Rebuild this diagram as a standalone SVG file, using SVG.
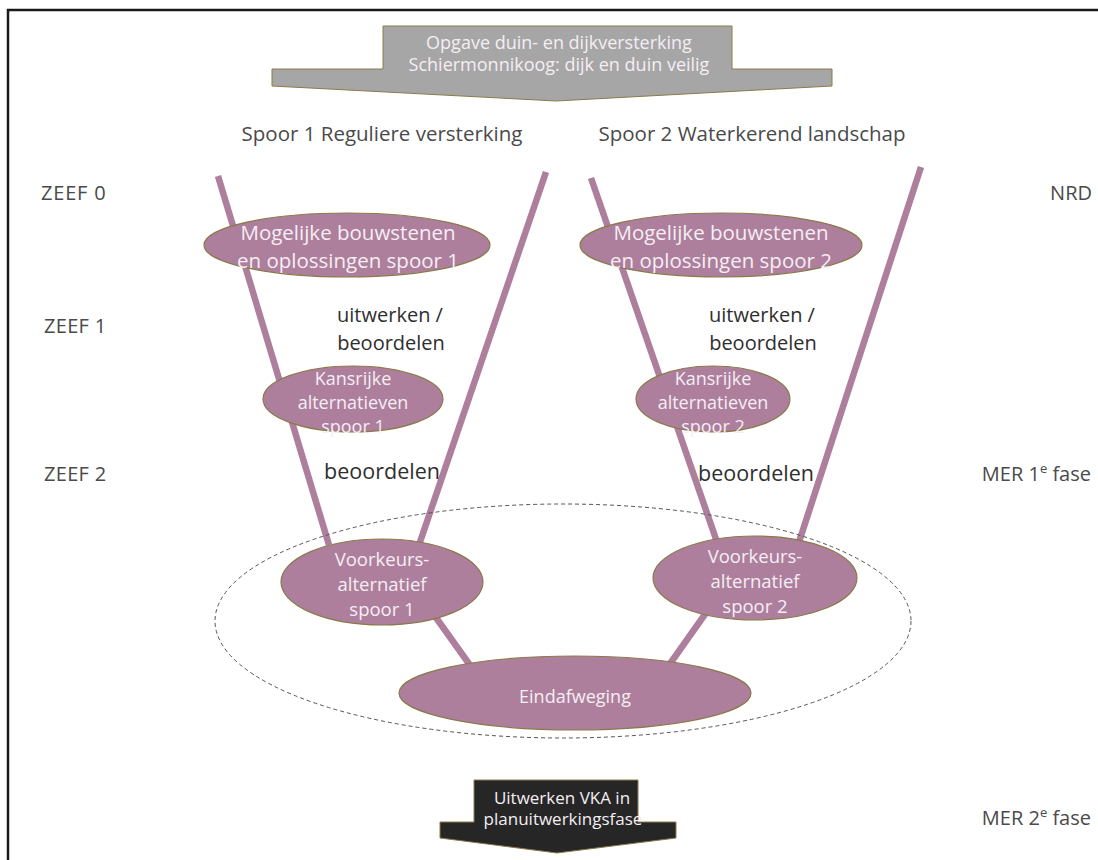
<svg xmlns="http://www.w3.org/2000/svg" width="1098" height="860" viewBox="0 0 1098 860">
<style>
.frame{fill:none;stroke:#1a1a1a;stroke-width:2.5}
.node{fill:#ad7f9d;stroke:#8a7a4a;stroke-width:1.2}
.wl{fill:#f5eef3;font-family:"Open Sans",Lato,sans-serif;text-anchor:middle}
.lbl{fill:#4a4a4a;font-family:"Open Sans",Lato,sans-serif}
.dk{fill:#2e2e2e;font-family:"Open Sans",Lato,sans-serif;text-anchor:middle}
.funnel{stroke:#ad7f9d;stroke-width:6.5;fill:none}
.dash{fill:none;stroke:#555;stroke-width:1;stroke-dasharray:4 3}
</style>
<rect x="0" y="0" width="1098" height="860" fill="#fff"/>
<path class="frame" d="M8 860 V10 H1098"/>

<g id="top-arrow">
<path d="M383 26 H732 V69 H832 V86 L556 101 L272 86 V69 H383 Z" fill="#a6a6a6" stroke="#8a7a4a" stroke-width="1"/>
<text class="wl" x="559" y="49" font-size="18">Opgave duin- en dijkversterking</text>
<text class="wl" x="559" y="71" font-size="18">Schiermonnikoog: dijk en duin veilig</text>
</g>

<g id="spoor-labels">
<text class="lbl" x="382" y="141" font-size="20.5" text-anchor="middle">Spoor 1 Reguliere versterking</text>
<text class="lbl" x="752" y="141" font-size="20.5" text-anchor="middle">Spoor 2 Waterkerend landschap</text>
</g>

<g id="side-labels" font-size="20">
<text class="lbl" x="41" y="200" letter-spacing="0.8">ZEEF 0</text>
<text class="lbl" x="44" y="333" letter-spacing="0.3">ZEEF 1</text>
<text class="lbl" x="44" y="481" letter-spacing="0.3">ZEEF 2</text>
<text class="lbl" x="1092" y="200" text-anchor="end">NRD</text>
<text class="lbl" x="1091" y="481" text-anchor="end">MER 1<tspan font-size="13" dy="-8">e</tspan><tspan dy="8"> fase</tspan></text>
<text class="lbl" x="1091" y="825" text-anchor="end">MER 2<tspan font-size="13" dy="-8">e</tspan><tspan dy="8"> fase</tspan></text>
</g>

<g id="connectors">
<line class="funnel" x1="218" y1="176" x2="329" y2="545"/>
<line class="funnel" x1="546" y1="172" x2="419" y2="545"/>
<line class="funnel" x1="591" y1="178" x2="717" y2="542"/>
<line class="funnel" x1="921" y1="167" x2="799" y2="542"/>
<line class="funnel" x1="432" y1="612" x2="472" y2="668"/>
<line class="funnel" x1="708" y1="610" x2="667" y2="668"/>
<ellipse class="dash" cx="563" cy="621" rx="348" ry="117"/>
</g>

<g id="mogelijke-1">
<ellipse class="node" cx="347" cy="245" rx="143" ry="32"/>
<text class="wl" x="348" y="240" font-size="20.5">Mogelijke bouwstenen</text>
<text class="wl" x="348" y="268" font-size="20.5">en oplossingen spoor 1</text>
</g>
<g id="mogelijke-2">
<ellipse class="node" cx="721" cy="245" rx="141" ry="32"/>
<text class="wl" x="721" y="240" font-size="20.5">Mogelijke bouwstenen</text>
<text class="wl" x="721" y="268" font-size="20.5">en oplossingen spoor 2</text>
</g>

<g id="uitwerken-labels" font-size="20">
<text class="dk" x="390" y="322">uitwerken /</text>
<text class="dk" x="391" y="350">beoordelen</text>
<text class="dk" x="762" y="322">uitwerken /</text>
<text class="dk" x="763" y="350">beoordelen</text>
</g>

<g id="kansrijke-1">
<ellipse class="node" cx="353" cy="399" rx="90" ry="33"/>
<text class="wl" x="353" y="385" font-size="18">Kansrijke</text>
<text class="wl" x="353" y="409" font-size="18">alternatieven</text>
<text class="wl" x="353" y="433" font-size="18">spoor 1</text>
</g>
<g id="kansrijke-2">
<ellipse class="node" cx="713" cy="399" rx="77" ry="33"/>
<text class="wl" x="713" y="385" font-size="18">Kansrijke</text>
<text class="wl" x="713" y="409" font-size="18">alternatieven</text>
<text class="wl" x="713" y="433" font-size="18">spoor 2</text>
</g>

<g id="beoordelen-labels" font-size="21.5">
<text class="dk" x="382" y="479">beoordelen</text>
<text class="dk" x="756" y="481">beoordelen</text>
</g>

<g id="voorkeur-1">
<ellipse class="node" cx="382" cy="582" rx="101" ry="43"/>
<text class="wl" x="382" y="566" font-size="18.5">Voorkeurs-</text>
<text class="wl" x="382" y="591" font-size="18.5">alternatief</text>
<text class="wl" x="382" y="616" font-size="18.5">spoor 1</text>
</g>
<g id="voorkeur-2">
<ellipse class="node" cx="755" cy="578" rx="102" ry="42"/>
<text class="wl" x="755" y="563" font-size="18.5">Voorkeurs-</text>
<text class="wl" x="755" y="588" font-size="18.5">alternatief</text>
<text class="wl" x="755" y="613" font-size="18.5">spoor 2</text>
</g>

<g id="eindafweging">
<ellipse class="node" cx="575" cy="693" rx="176" ry="37"/>
<text class="wl" x="575" y="703" font-size="18">Eindafweging</text>
</g>

<g id="bottom-arrow">
<path d="M474 780 H638 V822 H676 V838 L557 853 L440 838 V822 H474 Z" fill="#262626" stroke="#8a7a4a" stroke-width="1"/>
<text class="wl" x="562" y="804" font-size="17">Uitwerken VKA in</text>
<text class="wl" x="563" y="825" font-size="17">planuitwerkingsfase</text>
</g>
</svg>
